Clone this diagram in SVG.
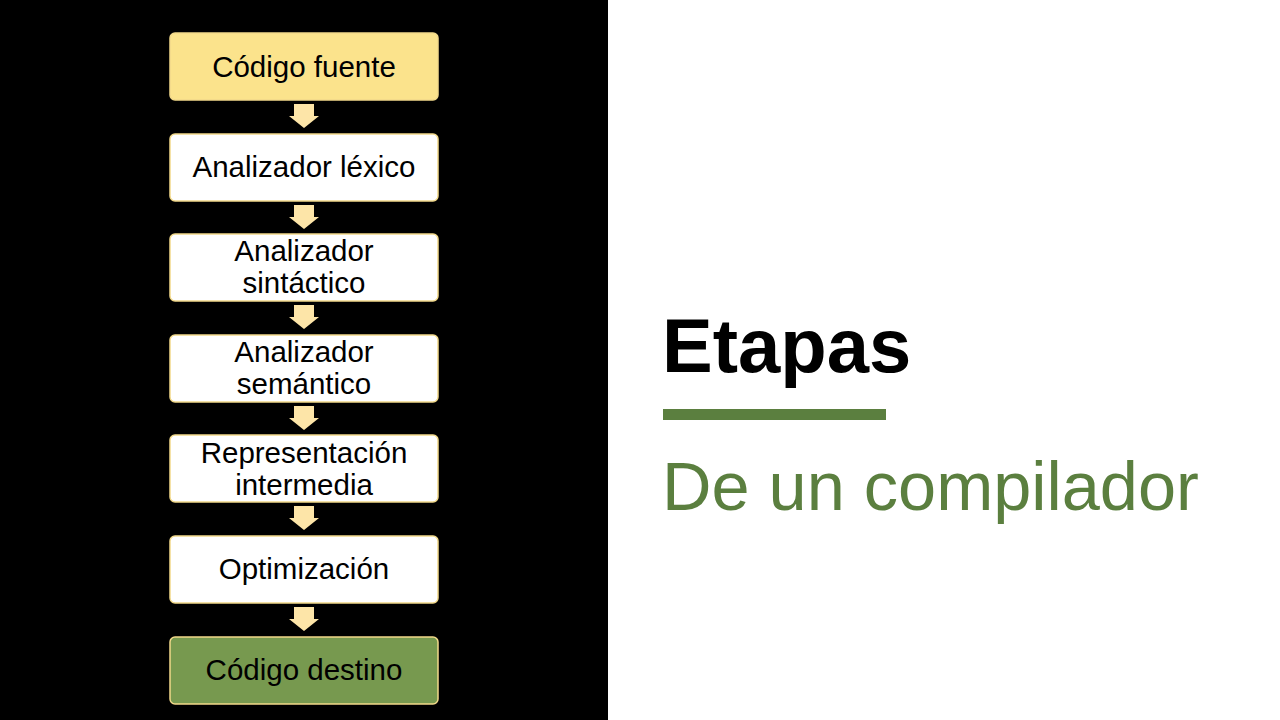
<svg xmlns="http://www.w3.org/2000/svg" width="1280" height="720" viewBox="0 0 1280 720">
<defs>
<style>
.box{stroke:#f2d98a;stroke-width:1.5}
.w{fill:#ffffff}
.y{fill:#fbe38c}
.g{fill:#77994f}
.t{font-family:"Liberation Sans",Arial,sans-serif;font-size:29.5px;fill:#000;text-anchor:middle}
.arr{fill:#fde5a8}
</style>
<path id="a" d="M-10,0 H10 V12 H15 L0,24 L-15,12 H-10 Z"/>
</defs>
<rect x="0" y="0" width="1280" height="720" fill="#ffffff"/>
<rect x="0" y="0" width="608" height="720" fill="#000000"/>
<g id="connectors" class="arr">
<use href="#a" x="304" y="104"/>
<use href="#a" x="304" y="205"/>
<use href="#a" x="304" y="305"/>
<use href="#a" x="304" y="406"/>
<use href="#a" x="304" y="506"/>
<use href="#a" x="304" y="607"/>
</g>
<g id="n1"><rect class="box y" x="170" y="33" width="268" height="67" rx="5"/><text class="t" x="304" y="77">Código fuente</text></g>
<g id="n2"><rect class="box w" x="170" y="134" width="268" height="67" rx="5"/><text class="t" x="304" y="177">Analizador léxico</text></g>
<g id="n3"><rect class="box w" x="170" y="234" width="268" height="67" rx="5"/><text class="t" x="304" y="261">Analizador</text><text class="t" x="304" y="293">sintáctico</text></g>
<g id="n4"><rect class="box w" x="170" y="335" width="268" height="67" rx="5"/><text class="t" x="304" y="362">Analizador</text><text class="t" x="304" y="394">semántico</text></g>
<g id="n5"><rect class="box w" x="170" y="435" width="268" height="67" rx="5"/><text class="t" x="304" y="463">Representación</text><text class="t" x="304" y="495">intermedia</text></g>
<g id="n6"><rect class="box w" x="170" y="536" width="268" height="67" rx="5"/><text class="t" x="304" y="579">Optimización</text></g>
<g id="n7"><rect class="box g" x="170" y="637" width="268" height="67" rx="5"/><text class="t" x="304" y="680">Código destino</text></g>
<g id="title">
<text x="662" y="372" font-family="Liberation Sans,Arial,sans-serif" font-weight="bold" font-size="76" fill="#000">Etapas</text>
<rect x="663" y="409" width="223" height="11" fill="#5b7f3f"/>
<text x="662" y="510" font-family="Liberation Sans,Arial,sans-serif" font-size="68.5" fill="#5b7f3f">De un compilador</text>
</g>
</svg>
